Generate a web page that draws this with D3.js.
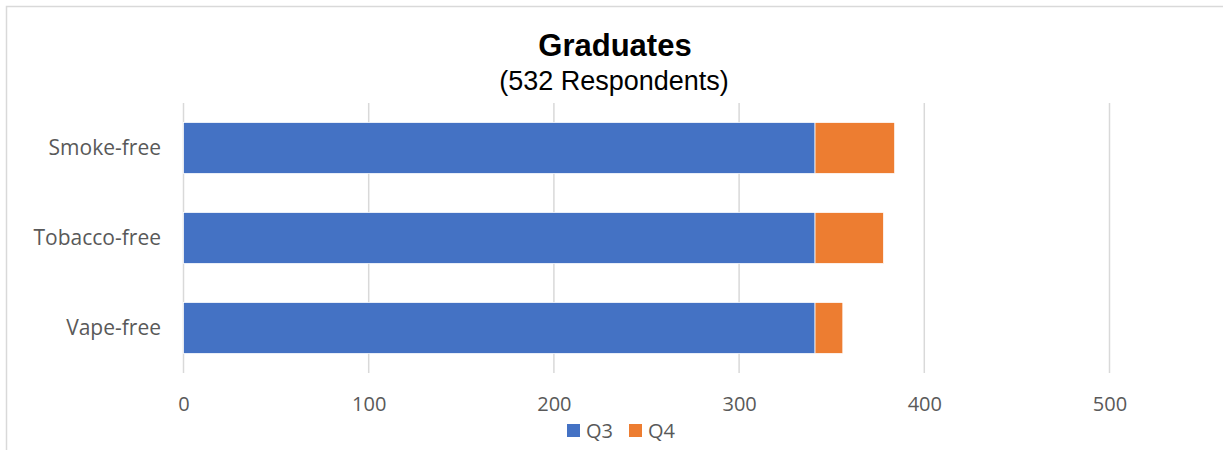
<!DOCTYPE html>
<html>
<head>
<meta charset="utf-8">
<script src="https://cdn.jsdelivr.net/npm/d3@7"></script>
<style>
  body { margin: 0; background: #fff; }
  svg { display: block; }
</style>
</head>
<body>
<div class="canvas"></div>
<script>
// chart values
const categories = ['Smoke-free', 'Tobacco-free', 'Vape-free'];
const seriesNames = ['Q3', 'Q4'];
const q3 = [341, 341, 341];
const q4 = [43, 37, 15];
const tickValues = [0, 100, 200, 300, 400, 500];
const colors = ['#4472c4', '#ed7d31'];

const W = 1223, H = 450;

const svg = d3.select('.canvas')
  .append('svg')
    .attr('width', W)
    .attr('height', H);

// chart frame
svg.append('rect')
  .attr('x', 6.5).attr('y', 6.5)
  .attr('width', W + 10).attr('height', H + 10)
  .attr('fill', 'none')
  .attr('stroke', '#d9d9d9')
  .attr('stroke-width', 1.5);

const x = d3.scaleLinear()
  .domain([0, 500])
  .range([183.5, 1109.5]);

const y = d3.scaleBand()
  .domain(categories)
  .range([103, 373])
  .paddingInner(0.433)
  .paddingOuter(0.2165);

// gridlines
svg.selectAll('line.grid')
  .data(tickValues)
  .enter()
  .append('line')
    .attr('class', 'grid')
    .attr('x1', d => x(d)).attr('x2', d => x(d))
    .attr('y1', 103).attr('y2', 373)
    .attr('stroke', '#d9d9d9')
    .attr('stroke-width', 1.5);

// stack the two series
const rows = categories.map((c, i) => ({ name: c, Q3: q3[i], Q4: q4[i] }));
const stacked = d3.stack().keys(seriesNames)(rows);

svg.selectAll('g.series')
  .data(stacked)
  .enter()
  .append('g')
    .attr('class', 'series')
    .attr('fill', (d, i) => colors[i])
  .selectAll('rect')
  .data(d => d)
  .enter()
  .append('rect')
    .attr('x', d => x(d[0]))
    .attr('width', d => x(d[1]) - x(d[0]))
    .attr('y', d => y(d.data.name))
    .attr('height', y.bandwidth())
    .attr('stroke', '#fff')
    .attr('stroke-width', 0.75);

// x axis labels
const xAxis = d3.axisBottom(x).tickValues(tickValues).tickSize(0).tickPadding(0);
const gx = svg.append('g')
  .attr('transform', 'translate(0,411)')
  .call(xAxis);
gx.select('.domain').remove();
gx.selectAll('text')
  .attr('dy', 0)
  .attr('fill', '#595959')
  .style('font-family', '"Open Sans", sans-serif')
  .style('font-size', '20px');

// y axis labels
const yAxis = d3.axisLeft(y).tickSize(0).tickPadding(0);
const gy = svg.append('g')
  .attr('transform', 'translate(161,0)')
  .call(yAxis);
gy.select('.domain').remove();
gy.selectAll('text')
  .attr('fill', '#595959')
  .style('font-family', '"Open Sans", sans-serif')
  .style('font-size', '21px');

// title
svg.append('text')
  .attr('x', 615).attr('y', 56)
  .attr('text-anchor', 'middle')
  .style('font-family', '"Liberation Sans", Arial, sans-serif')
  .style('font-weight', 'bold')
  .style('font-size', '31px')
  .attr('fill', '#000')
  .text('Graduates');

svg.append('text')
  .attr('x', 614).attr('y', 90)
  .attr('text-anchor', 'middle')
  .style('font-family', '"Liberation Sans", Arial, sans-serif')
  .style('font-size', '27px')
  .attr('fill', '#000')
  .text('(532 Respondents)');

// legend
const legend = svg.append('g')
  .attr('transform', 'translate(567,424)');
const items = legend.selectAll('g')
  .data(seriesNames)
  .enter()
  .append('g')
    .attr('transform', (d, i) => `translate(${i * 62},0)`);
items.append('rect')
  .attr('width', 13).attr('height', 13)
  .attr('fill', (d, i) => colors[i]);
items.append('text')
  .attr('x', 19).attr('y', 14)
  .attr('fill', '#595959')
  .style('font-family', '"Open Sans", sans-serif')
  .style('font-size', '20px')
  .text(d => d);
</script>
</body>
</html>
